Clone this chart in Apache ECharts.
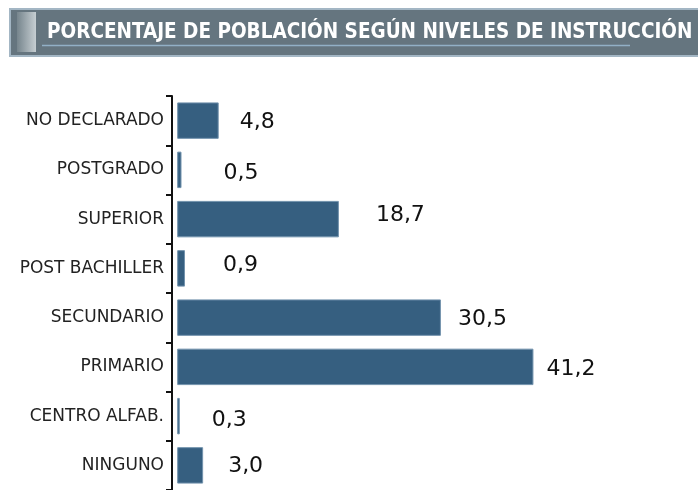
<!DOCTYPE html>
<html>
<head>
<meta charset="utf-8">
<script src="https://cdn.jsdelivr.net/npm/echarts@6/dist/echarts.min.js"></script>
<style>
  html, body { margin: 0; padding: 0; background: #fff; }
  #chart { width: 698px; height: 490px; }
</style>
</head>
<body>
<div id="chart"></div>
<script>
// categories from top to bottom
const categories = ['NO DECLARADO', 'POSTGRADO', 'SUPERIOR', 'POST BACHILLER', 'SECUNDARIO', 'PRIMARIO', 'CENTRO ALFAB.', 'NINGUNO'];
const values = [4.8, 0.5, 18.7, 0.9, 30.5, 41.2, 0.3, 3.0];
const titleText = 'PORCENTAJE DE POBLACIÓN SEGÚN NIVELES DE INSTRUCCIÓN';

// the labels in the original are placed a bit irregularly
const labelGap = [21, 42, 37, 38, 17, 13, 32, 25];
const labelDy = [2, 3, -4, -3, 2, 2, 4, 1];

const chart = echarts.init(document.getElementById('chart'));

const option = {
    animation: false,
    grid: {
        left: 172,
        right: 2,
        top: 96,
        bottom: -5
    },
    xAxis: {
        type: 'value',
        min: -0.6,
        max: 60,
        show: false
    },
    yAxis: {
        type: 'category',
        data: categories,
        inverse: true,
        axisLine: { onZero: false, lineStyle: { color: '#111', width: 2 } },
        axisTick: { show: true, length: 6, lineStyle: { color: '#111', width: 2 } },
        axisLabel: {
            color: '#222',
            fontFamily: 'DejaVu Sans',
            fontSize: 17,
            margin: 8
        }
    },
    series: [{
        type: 'bar',
        barCategoryGap: '26%',
        data: values.map((v, i) => ({
            value: v,
            label: { distance: labelGap[i], offset: [0, labelDy[i]] }
        })),
        itemStyle: {
            color: '#365f80',
            borderColor: '#7393ad',
            borderWidth: 1
        },
        label: {
            show: true,
            position: 'right',
            color: '#111',
            fontFamily: 'DejaVu Sans',
            fontSize: 22,
            formatter: p => p.value.toFixed(1).replace('.', ',')
        }
    }],
    graphic: [
        {
            type: 'rect',
            shape: { x: 10, y: 9, width: 700, height: 47 },
            style: { fill: '#65757f', stroke: '#a3b6c4', lineWidth: 2 }
        },
        {
            type: 'rect',
            shape: { x: 17, y: 12, width: 19, height: 40 },
            style: {
                fill: new echarts.graphic.LinearGradient(0, 0, 1, 0, [
                    { offset: 0, color: '#76858d' },
                    { offset: 1, color: '#c6ced2' }
                ])
            }
        },
        {
            type: 'line',
            shape: { x1: 42, y1: 45.5, x2: 630, y2: 45.5 },
            style: { stroke: '#92b0c6', lineWidth: 1.5 }
        },
        {
            type: 'text',
            x: 47,
            y: 33,
            style: {
                text: titleText,
                fill: '#ffffff',
                font: 'bold 20.5px "DejaVu Sans Condensed"',
                verticalAlign: 'middle'
            }
        }
    ]
};

chart.setOption(option);
</script>
</body>
</html>
